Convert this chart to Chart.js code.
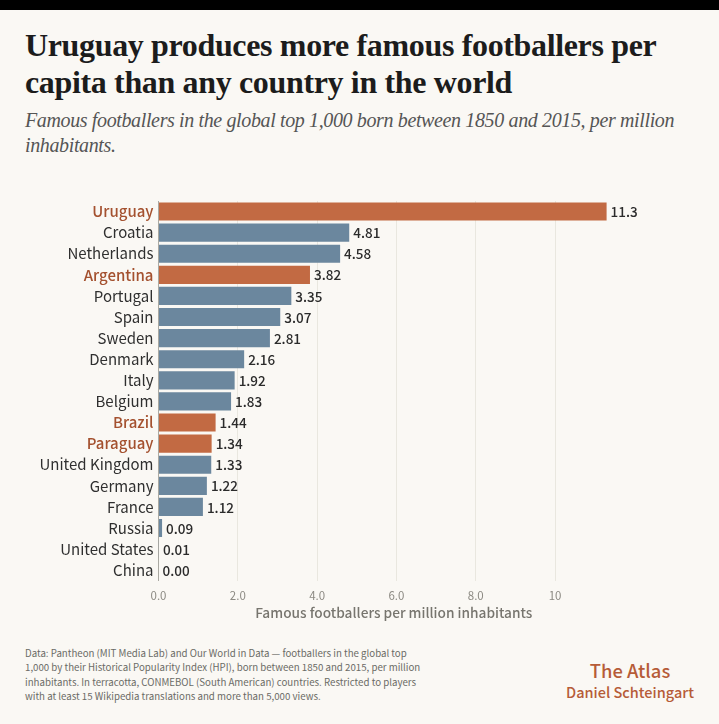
<!DOCTYPE html>
<html>
<head>
<meta charset="utf-8">
<title>The Atlas</title>
<script src="https://cdn.jsdelivr.net/npm/chart.js@4"></script>
<style>
    html, body { margin: 0; padding: 0; background: #faf8f4; }
    body { width: 719px; height: 724px; position: relative; overflow: hidden; }
    .topbar { position: absolute; left: 0; top: 0; width: 719px; height: 10px; background: #000; }
    .txt { position: absolute; white-space: nowrap; }
    h1 { margin: 0; left: 25px; top: 27px; font: bold 32px/37px "Liberation Serif", serif; letter-spacing: -0.35px; color: #1c1c1c; }
    .sub { left: 25px; top: 108px; font: italic 20px/25px "Liberation Serif", serif; letter-spacing: -0.37px; color: #555; }
    .note { left: 25px; top: 645.5px; font: 9.7px/14.6px "Noto Sans CJK SC", sans-serif; color: #6b6b66; }
    .brand { left: 550px; top: 658px; width: 160px; font-family: "Noto Sans CJK SC", sans-serif; color: #b65c38; text-align: center; }
    .brand b { display: block; font-size: 18.4px; line-height: 24px; font-weight: 500; }
    .brand span { display: block; font-size: 14.5px; line-height: 19px; font-weight: 500; }
    .wrap { position: absolute; left: 0; top: 187px; width: 719px; height: 434px; }
</style>
</head>
<body>
<div class="topbar"></div>
<h1 class="txt">Uruguay produces more famous footballers per<br>capita than any country in the world</h1>
<div class="txt sub">Famous footballers in the global top 1,000 born between 1850 and 2015, per million<br>inhabitants.</div>
<div class="wrap"><canvas id="footballersChart"></canvas></div>
<div class="txt note">Data: Pantheon (MIT Media Lab) and Our World in Data — footballers in the global top<br>1,000 by their Historical Popularity Index (HPI), born between 1850 and 2015, per million<br>inhabitants. In terracotta, CONMEBOL (South American) countries. Restricted to players<br>with at least 15 Wikipedia translations and more than 5,000 views.</div>
<div class="txt brand"><b>The Atlas</b><span>Daniel Schteingart</span></div>

<script>
const countries = ['Uruguay', 'Croatia', 'Netherlands', 'Argentina', 'Portugal', 'Spain', 'Sweden', 'Denmark', 'Italy', 'Belgium', 'Brazil', 'Paraguay', 'United Kingdom', 'Germany', 'France', 'Russia', 'United States', 'China'];
const values = [11.3, 4.81, 4.58, 3.82, 3.35, 3.07, 2.81, 2.16, 1.92, 1.83, 1.44, 1.34, 1.33, 1.22, 1.12, 0.09, 0.01, 0.00];
const valueLabels = ['11.3', '4.81', '4.58', '3.82', '3.35', '3.07', '2.81', '2.16', '1.92', '1.83', '1.44', '1.34', '1.33', '1.22', '1.12', '0.09', '0.01', '0.00'];
const conmebol = ['Uruguay', 'Argentina', 'Brazil', 'Paraguay'];
const xTicks = [0, 2, 4, 6, 8, 10];
const xTickLabels = ['0.0', '2.0', '4.0', '6.0', '8.0', '10'];

const sans = '"Noto Sans CJK SC", sans-serif';

// Value printed to the right of each bar
const valueLabelPlugin = {
    id: 'valueLabels',
    afterDatasetsDraw(chart) {
        const ctx = chart.ctx;
        const bars = chart.getDatasetMeta(0).data;
        ctx.save();
        ctx.font = '500 13.5px ' + sans;
        ctx.fillStyle = '#2b2b2b';
        ctx.textAlign = 'left';
        ctx.textBaseline = 'middle';
        bars.forEach(function(bar, i) {
            ctx.fillText(valueLabels[i], bar.x + 4, bar.y + 0.5);
        });
        ctx.restore();
    }
};

new Chart(document.getElementById('footballersChart'), {
    type: 'bar',
    data: {
        labels: countries,
        datasets: [{
            data: values,
            backgroundColor: countries.map(c => conmebol.includes(c) ? '#c26a43' : '#6b879e'),
            barPercentage: 0.86,
            categoryPercentage: 1
        }]
    },
    plugins: [valueLabelPlugin],
    options: {
        indexAxis: 'y',
        responsive: true,
        maintainAspectRatio: false,
        animation: false,
        layout: { padding: { left: 0, right: 90, top: 10.5, bottom: 0 } },
        plugins: { legend: { display: false }, tooltip: { enabled: false } },
        scales: {
            x: {
                min: 0,
                max: 11.865,
                afterBuildTicks: axis => { axis.ticks = xTicks.map(v => ({ value: v })); },
                grid: { color: '#e9e7df', lineWidth: 1, drawTicks: false },
                border: { display: false },
                ticks: {
                    padding: 8,
                    maxRotation: 0,
                    autoSkip: false,
                    color: '#8c8a83',
                    font: { family: sans, size: 11.5 },
                    callback: (v, i) => xTickLabels[i]
                },
                title: {
                    display: true,
                    text: 'Famous footballers per million inhabitants',
                    color: '#77756e',
                    font: { family: sans, size: 13.7, weight: '500' },
                    padding: { top: -6, bottom: 0 }
                }
            },
            y: {
                afterFit: axis => { axis.width = 158.5; },
                grid: { display: false, drawTicks: false },
                border: { display: true, color: '#aaa9a2', width: 1 },
                ticks: {
                    padding: 5,
                    autoSkip: false,
                    color: ctx => conmebol.includes(countries[ctx.index]) ? '#a4512f' : '#2f2f2f',
                    font: ctx => ({
                        family: sans,
                        size: 15,
                        weight: conmebol.includes(countries[ctx.index]) ? '500' : '400'
                    })
                }
            }
        }
    }
});
</script>
</body>
</html>
